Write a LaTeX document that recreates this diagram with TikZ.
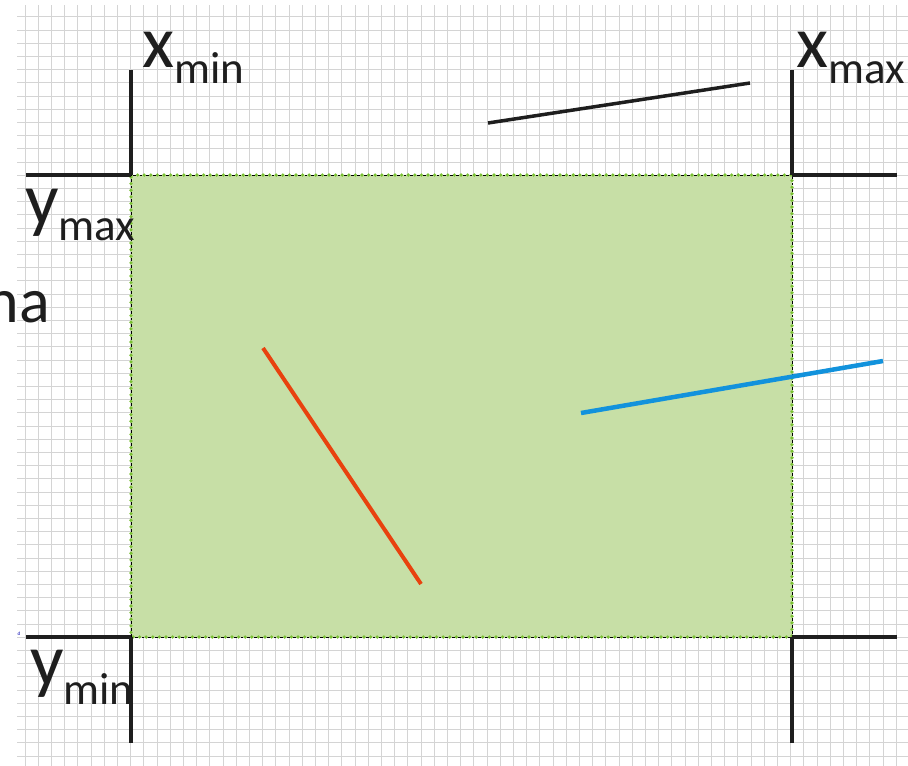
\documentclass[tikz,border=0pt]{standalone}
\usepackage{fontspec}
\setmainfont{Carlito}
\usepackage{xcolor}
\definecolor{janelaverde}{RGB}{199,223,166}
\definecolor{pontoverde}{RGB}{122,192,52}
\definecolor{retavermelha}{RGB}{232,66,14}
\definecolor{retaazul}{RGB}{18,146,220}
\definecolor{papelcinza}{RGB}{212,212,212}
\definecolor{tinta}{RGB}{30,30,30}
\tikzset{
    papel/.style={draw=papelcinza, line width=0.75pt},
    limite/.style={draw=tinta, line width=4pt},
    janela/.style={fill=janelaverde},
    reta/.style={line width=4pt},
    rotulo/.style={inner sep=0pt, anchor=base west, text=tinta}
}
\newcommand{\limrot}[3]{{\fontsize{74}{74}\selectfont #1}{\fontsize{45}{45}\selectfont\raisebox{-#3pt}{#2}}}

\begin{document}
\begin{tikzpicture}[x=1pt, y=-1pt]
    \useasboundingbox (0,0) rectangle (908,766);
    \fill[white] (0,0) rectangle (908,766);
    \foreach \i in {0,...,67} \draw[papel] (25+13.2*\i,5) -- (25+13.2*\i,766);
    \foreach \j in {0,...,57} \draw[papel] (17,16.7+13.2*\j) -- (908,16.7+13.2*\j);
    \coordinate (nw) at (131,175);
    \coordinate (ne) at (792,175);
    \coordinate (sw) at (131,637);
    \coordinate (se) at (792,637);
    \fill[janela] (nw) rectangle (se);
    \draw[pontoverde, line width=3.6pt, line cap=round, dash pattern=on 0pt off 6.6pt] (nw) -- (ne) -- (se) -- (sw) -- cycle;
    \draw[black, line width=1pt, dash pattern=on 2.8pt off 3.8pt, dash phase=-1.9pt] (nw) -- (ne) -- (se) -- (sw) -- cycle;
    \draw[limite] (nw) -- ++(0,-105);
    \draw[limite] (ne) -- ++(0,-105);
    \draw[limite] (sw) -- ++(0,106);
    \draw[limite] (se) -- ++(0,106);
    \draw[limite] (nw) -- ++(-105,0);
    \draw[limite] (sw) -- ++(-105,0);
    \draw[limite] (ne) -- ++(105,0);
    \draw[limite] (se) -- ++(105,0);
    \coordinate (p1) at (488,123);
    \coordinate (p2) at (750,83);
    \coordinate (q1) at (263,348);
    \coordinate (q2) at (421,584);
    \coordinate (r1) at (581,413);
    \coordinate (r2) at (883,361);
    \draw[reta, tinta, line width=3.5pt] (p1) -- (p2);
    \draw[reta, retavermelha] (q1) -- (q2);
    \draw[reta, retaazul, line width=4.5pt] (r1) -- (r2);
    \node[rotulo] (xminrot) at (142,67) {\limrot{x}{min}{16}};
    \node[rotulo] (xmaxrot) at (796,67) {\limrot{x}{max}{16}};
    \node[rotulo] (ymaxrot) at (25,224) {\limrot{y}{max}{16}};
    \node[rotulo] (yminrot) at (30,685) {\limrot{y}{min}{19}};
    \node[inner sep=0pt, anchor=base east, text=tinta, font=\fontsize{64}{64}\selectfont] (narot) at (50,322) {na};
    \node[inner sep=0pt, text=blue!70!black, font=\fontsize{5}{5}\selectfont] (dmarca) at (19,634) {d};
\end{tikzpicture}
\end{document}
